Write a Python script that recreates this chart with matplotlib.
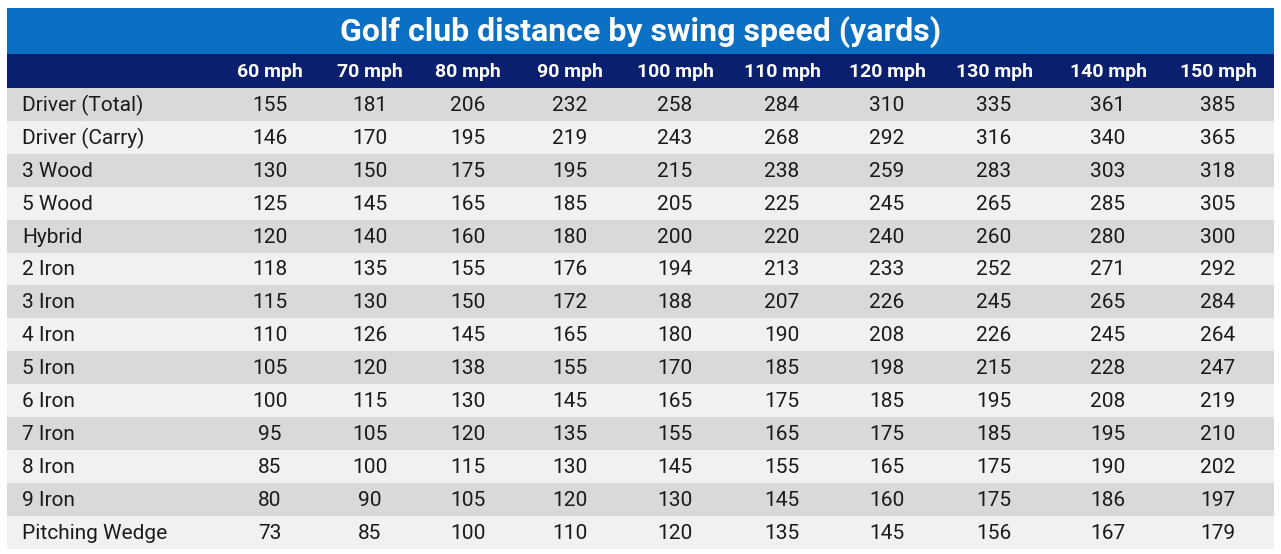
import matplotlib.pyplot as plt
from matplotlib.patches import Rectangle

title = 'Golf club distance by swing speed (yards)'
speeds = ['60 mph', '70 mph', '80 mph', '90 mph', '100 mph', '110 mph', '120 mph', '130 mph', '140 mph', '150 mph']
clubs = ['Driver (Total)', 'Driver (Carry)', '3 Wood', '5 Wood', 'Hybrid', '2 Iron', '3 Iron',
         '4 Iron', '5 Iron', '6 Iron', '7 Iron', '8 Iron', '9 Iron', 'Pitching Wedge']
distances = [
    [155, 181, 206, 232, 258, 284, 310, 335, 361, 385],
    [146, 170, 195, 219, 243, 268, 292, 316, 340, 365],
    [130, 150, 175, 195, 215, 238, 259, 283, 303, 318],
    [125, 145, 165, 185, 205, 225, 245, 265, 285, 305],
    [120, 140, 160, 180, 200, 220, 240, 260, 280, 300],
    [118, 135, 155, 176, 194, 213, 233, 252, 271, 292],
    [115, 130, 150, 172, 188, 207, 226, 245, 265, 284],
    [110, 126, 145, 165, 180, 190, 208, 226, 245, 264],
    [105, 120, 138, 155, 170, 185, 198, 215, 228, 247],
    [100, 115, 130, 145, 165, 175, 185, 195, 208, 219],
    [95, 105, 120, 135, 155, 165, 175, 185, 195, 210],
    [85, 100, 115, 130, 145, 155, 165, 175, 190, 202],
    [80, 90, 105, 120, 130, 145, 160, 175, 186, 197],
    [73, 85, 100, 110, 120, 135, 145, 156, 167, 179],
]

W, H = 1281, 554
fig = plt.figure(figsize=(W / 100, H / 100), dpi=100)
ax = fig.add_axes([0, 0, 1, 1])
ax.set_xlim(0, W)
ax.set_ylim(H, 0)
ax.axis('off')

left, right = 7, 1274
col_x = [270, 370, 468, 570, 675, 782, 887, 994, 1108, 1218]
top_title, top_head, top_rows = 8, 54, 88
row_h = 32.9

ax.add_patch(Rectangle((left, top_title), right - left, top_head - top_title, color='#0b6fc4', lw=0))
ax.add_patch(Rectangle((left, top_head), right - left, top_rows - top_head, color='#0a1f6d', lw=0))
ax.text((left + right) / 2, (top_title + top_head) / 2 + 1, title, color='white', fontsize=23,
        fontweight='bold', ha='center', va='center', family='Roboto')

for x, s in zip(col_x, speeds):
    ax.text(x, (top_head + top_rows) / 2 + 1, s, color='white', fontsize=14, fontweight='bold',
            ha='center', va='center', family='Roboto')

for i, (club, vals) in enumerate(zip(clubs, distances)):
    y0 = top_rows + i * row_h
    ax.add_patch(Rectangle((left, y0), right - left, row_h,
                           color='#d9d9d9' if i % 2 == 0 else '#f1f1f1', lw=0))
    yc = y0 + row_h / 2 + 1
    ax.text(22, yc, club, fontsize=15, ha='left', va='center', color='#1a1a1a', family='Roboto')
    for x, v in zip(col_x, vals):
        ax.text(x, yc, str(v), fontsize=15, ha='center', va='center', color='#1a1a1a', family='Roboto')

fig.savefig('out.png', dpi=100, facecolor='white')
